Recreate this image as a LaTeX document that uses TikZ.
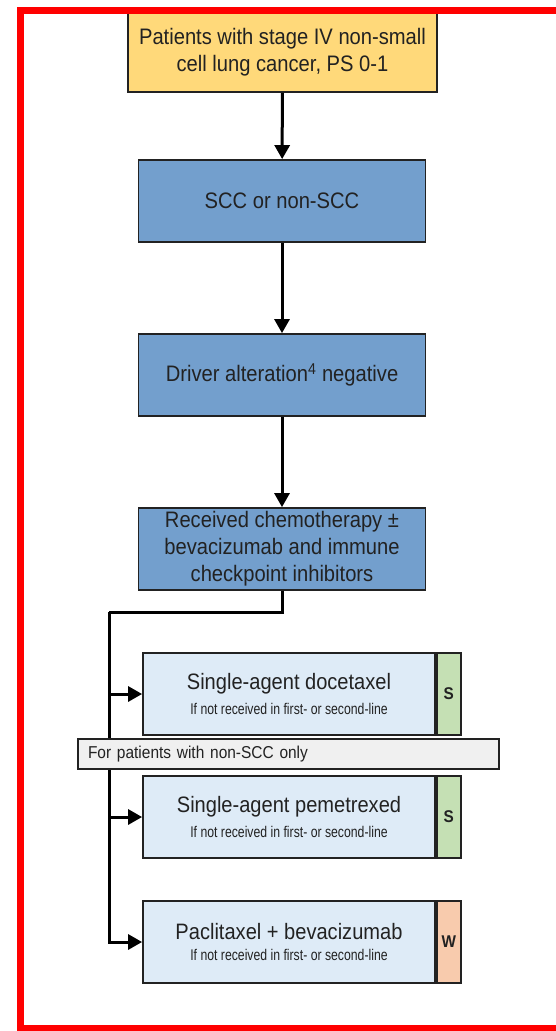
\documentclass[tikz,border=0pt]{standalone}
\usepackage{fontspec}
\setmainfont{Liberation Sans}[FakeStretch=0.9]
\newfontfamily\subfont{Liberation Sans}[FakeStretch=0.79]
\usetikzlibrary{arrows.meta}

\definecolor{startgold}{HTML}{FFD97A}
\definecolor{stepblue}{HTML}{739FCD}
\definecolor{treatblue}{HTML}{DEEBF7}
\definecolor{gradegreen}{HTML}{C5E0B4}
\definecolor{gradeorange}{HTML}{F8CBAD}
\definecolor{notegray}{HTML}{F0F0F0}
\definecolor{inkgray}{HTML}{222222}

\newcommand{\bigtext}{\fontsize{22.4}{27}\selectfont}
\newcommand{\titletext}{\fontsize{22.3}{27}\selectfont}
\newcommand{\smalltext}{\subfont\fontsize{15.5}{18}\selectfont}

\tikzset{
  boxbase/.style={draw=inkgray, line width=1.8pt, inner sep=0pt, align=center, text=inkgray},
  startbox/.style={boxbase, fill=startgold, minimum width=309pt, minimum height=80pt, font=\bigtext},
  stepbox/.style={boxbase, fill=stepblue, minimum width=287pt, minimum height=82pt, font=\bigtext},
  treatbox/.style={boxbase, fill=treatblue, minimum width=292pt, minimum height=82pt},
  gradebox/.style={boxbase, minimum width=24pt, minimum height=82pt, font=\fontsize{17}{20}\selectfont\bfseries},
  notebar/.style={boxbase, fill=notegray, minimum width=421pt, minimum height=30pt, text width=401pt, align=left, font=\fontsize{17.2}{20}\selectfont},
  link/.style={line width=3pt, draw=black, line join=miter}
}

\begin{document}
\begin{tikzpicture}[x=1pt, y=-1pt, >={Triangle[width=15pt, length=14pt]}]
  \useasboundingbox (0,0) rectangle (555,1031);

  % 定义节点
  \node[startbox] (start) at (282.5,52) {Patients with stage IV non-small\\cell lung cancer, PS 0-1};
  \node[stepbox] (histo) at (282,201) {SCC or non-SCC};
  \node[stepbox] (driver) at (282,375) {Driver alteration\textsuperscript{4} negative};
  \node[stepbox] (prior) at (282,549) {Received chemotherapy ±\\bevacizumab and immune\\checkpoint inhibitors};

  \node[treatbox] (doc) at (289,694) {{\titletext Single-agent docetaxel}\\[9pt]{\smalltext If not received in first- or second-line}};
  \node[gradebox, fill=gradegreen, anchor=west] (docg) at (doc.east) {S};
  \node[treatbox] (pem) at (289,817) {{\titletext Single-agent pemetrexed}\\[9pt]{\smalltext If not received in first- or second-line}};
  \node[gradebox, fill=gradegreen, anchor=west] (pemg) at (pem.east) {S};
  \node[treatbox] (pac) at (289,942) {{\titletext Paclitaxel + bevacizumab}\\[9pt]{\smalltext If not received in first- or second-line}};
  \node[gradebox, fill=gradeorange, anchor=west] (pacg) at (pac.east) {W};

  \coordinate (split) at (109,612);

  % 绘制主要箭头
  \draw[link, ->] (start) -- (histo);
  \draw[link, ->] (histo) -- (driver);
  \draw[link, ->] (driver) -- (prior);

  % 分支
  \draw[link] (prior.south) |- (split);
  \draw[link, ->] (split) |- (pac.west);
  \draw[link, ->] (split |- doc.west) -- (doc.west);
  \draw[link, ->] (split |- pem.west) -- (pem.west);

  % 说明条
  \node[notebar] (note) at (288.5,754) {For patients with non-SCC only};

  % 外框
  \draw[draw=red, line width=7pt] (560,10) -- (20.5,10) -- (20.5,1028) -- (560,1028);
\end{tikzpicture}
\end{document}
